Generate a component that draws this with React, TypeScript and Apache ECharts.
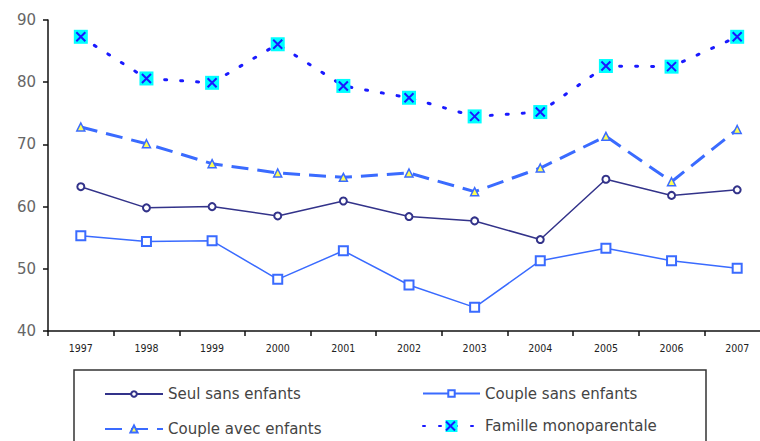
import React, { useEffect, useRef } from "react";
import * as echarts from "echarts";

const years = ["1997", "1998", "1999", "2000", "2001", "2002", "2003", "2004", "2005", "2006", "2007"];
const seulSansEnfants = [63.2, 59.8, 60.0, 58.5, 60.9, 58.4, 57.7, 54.7, 64.4, 61.8, 62.7];
const coupleSansEnfants = [55.3, 54.4, 54.5, 48.3, 52.9, 47.4, 43.8, 51.3, 53.3, 51.3, 50.1];
const coupleAvecEnfants = [72.8, 70.1, 66.9, 65.4, 64.7, 65.4, 62.4, 66.2, 71.3, 64.0, 72.4];
const familleMonoparentale = [87.3, 80.6, 79.9, 86.1, 79.4, 77.5, 74.5, 75.2, 82.6, 82.5, 87.3];
const yMin = 40;
const yMax = 90;
const yStep = 10;

const FONT = "DejaVu Sans";

export default function App() {
  const ref = useRef<HTMLDivElement>(null);
  useEffect(() => {
    document.body.style.margin = "0";
    if (!ref.current) return;
    const chart = echarts.init(ref.current, null, { renderer: "svg" });
    const legendText = { fontSize: 15, color: "#444", fontFamily: FONT };
    const mkLegend = (name: string, left: number, top: number, w: number, h: number) => ({
      data: [name],
      left,
      top: top - h / 2,
      itemWidth: w,
      itemHeight: h,
      padding: 0,
      selectedMode: false,
      textStyle: legendText,
    });
    chart.setOption({
      animation: false,
      backgroundColor: "#fff",
      grid: { left: 48, top: 20, right: -10, height: 311, containLabel: false, outerBoundsMode: "none" },
      xAxis: {
        type: "category",
        data: years,
        boundaryGap: true,
        axisLine: { lineStyle: { color: "#111", width: 1.5 } },
        axisTick: { show: true, length: 5, lineStyle: { color: "#111", width: 1.5 } },
        axisLabel: { fontSize: 10.5, fontFamily: "DejaVu Sans Condensed", color: "#222", margin: 11 },
        splitLine: { show: false },
      },
      yAxis: {
        type: "value",
        min: yMin,
        max: yMax,
        interval: yStep,
        axisLine: { show: true, lineStyle: { color: "#111", width: 1.5 } },
        axisTick: { show: true, length: 5, lineStyle: { color: "#111", width: 1.5 } },
        axisLabel: { fontSize: 15, fontFamily: FONT, color: "#666", margin: 12 },
        splitLine: { show: false },
      },
      legend: [
        mkLegend("Seul sans enfants", 104, 390, 58, 7),
        mkLegend("Couple sans enfants", 422, 390, 57, 8),
        mkLegend("Couple avec enfants", 104, 426, 58, 9),
        mkLegend("Famille monoparentale", 422, 426, 57, 15),
      ],
      graphic: [
        {
          type: "rect",
          shape: { x: 74, y: 370, width: 632, height: 90 },
          style: { fill: "none", stroke: "#333", lineWidth: 1.5 },
          silent: true,
        },
        {
          type: "line",
          shape: { x1: 446, y1: 421.5, x2: 455, y2: 430.5 },
          style: { stroke: "#1a1aff", lineWidth: 2 },
          z: 200,
        },
        {
          type: "line",
          shape: { x1: 455, y1: 421.5, x2: 446, y2: 430.5 },
          style: { stroke: "#1a1aff", lineWidth: 2 },
          z: 200,
        },
      ],
      series: [
        {
          name: "Seul sans enfants",
          type: "line",
          data: seulSansEnfants,
          symbol: "emptyCircle",
          symbolSize: 7,
          itemStyle: { color: "#33338a", borderWidth: 1.5 },
          lineStyle: { color: "#33338a", width: 1.5 },
        },
        {
          name: "Couple sans enfants",
          type: "line",
          data: coupleSansEnfants,
          symbol: "emptyRect",
          symbolSize: 9,
          itemStyle: { color: "#3a6bff", borderWidth: 1.5 },
          lineStyle: { color: "#3a6bff", width: 1.5 },
        },
        {
          name: "Couple avec enfants",
          type: "line",
          data: coupleAvecEnfants,
          symbol: "triangle",
          symbolSize: 8,
          itemStyle: { color: "#ffff55", borderColor: "#3a6bff", borderWidth: 1.5 },
          lineStyle: { color: "#3a6bff", width: 3, type: [17, 9] },
        },
        {
          name: "Famille monoparentale",
          type: "line",
          data: familleMonoparentale,
          symbol: "rect",
          symbolSize: 14,
          itemStyle: { color: "#00ffff" },
          lineStyle: { color: "#1a1aff", width: 3, type: [2, 14], cap: "round" },
          z: 5,
        },
        {
          name: "Famille X",
          type: "line",
          data: familleMonoparentale,
          symbol: "path://M0,0L10,10M10,0L0,10",
          symbolSize: 9,
          showSymbol: true,
          itemStyle: { color: "transparent", borderColor: "#1a1aff", borderWidth: 2 },
          lineStyle: { opacity: 0, width: 0 },
          z: 6,
        },
      ],
    });
    return () => chart.dispose();
  }, []);
  return <div ref={ref} style={{ width: 760, height: 441 }} />;
}
